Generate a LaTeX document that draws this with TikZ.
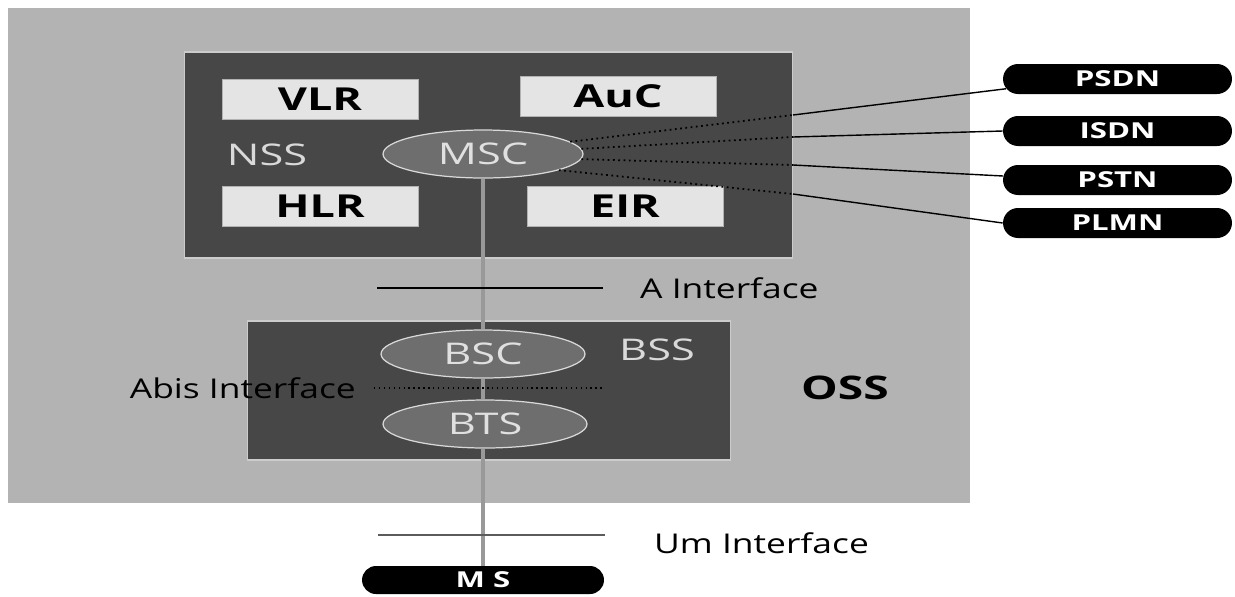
\documentclass[tikz,border=0pt]{standalone}
\usepackage{fontspec}
\setmainfont{Open Sans}[FakeStretch=1.3, BoldFeatures={FakeStretch=1.42}]
\newfontfamily\etire{Open Sans}[FakeStretch=1.45]
\usetikzlibrary{shapes.geometric,shapes.misc}

\definecolor{grisoss}{HTML}{B3B3B3}
\definecolor{grisfonce}{HTML}{474747}
\definecolor{grisclair}{HTML}{E4E4E4}
\definecolor{grismoyen}{HTML}{6E6E6E}
\definecolor{grisligne}{HTML}{999999}

\tikzset{bloc/.style = {draw = white!80!black, fill = grisfonce, line width = 0.6pt},
         boite/.style = {draw = white!70!black, fill = grisclair, minimum width = 3.92cm,
                         minimum height = 0.8cm, inner sep = 0pt,
                         font = \bfseries\fontsize{18}{20}\selectfont},
         ovale/.style = {ellipse, draw = white!85!black, fill = grismoyen, line width = 0.7pt,
                         minimum width = 4cm, minimum height = 0.96cm, inner sep = 0pt,
                         text = white!88!black, font = \etire\fontsize{17}{20}\selectfont},
         pilule/.style = {rounded rectangle, fill = black, text = white, inner sep = 0pt,
                          minimum width = 4.58cm, minimum height = 0.6cm,
                          font = \bfseries\fontsize{12.5}{14}\selectfont},
         titre/.style = {text = white!85!black, font = \etire\fontsize{17}{20}\selectfont},
         etiquette/.style = {font = \fontsize{15.5}{18}\selectfont},
         lien/.style = {black, line width = 0.8pt},
         tirets/.style = {black, dotted, line width = 1pt},
         axe/.style = {grisligne, line width = 2pt}
        }

\begin{document}
\begin{tikzpicture}[x = 0.02cm, y = -0.02cm]
  \useasboundingbox (0,0) rectangle (1235,596);
  % fond OSS
  \fill[grisoss] (8,8) rectangle (970,503);

  % NSS
  \node[bloc, minimum width = 12.18cm, minimum height = 4.12cm] (nss) at (488.5,155) {};
  \node[boite] (vlr) at (320,99) {VLR};
  \node[boite] (auc) at (618,96) {AuC};
  \node[boite] (hlr) at (320,206) {HLR};
  \node[boite] (eir) at (625,206) {EIR};
  \node[titre] (nsstxt) at (267,155) {NSS};
  \node[ovale] (msc) at (483,154) {MSC};

  % BSS
  \node[bloc, minimum width = 9.68cm, minimum height = 2.78cm] (bss) at (489,390.5) {};
  \node[ovale, minimum width = 4.08cm] (bsc) at (483,354) {BSC};
  \node[ovale, minimum width = 4.08cm] (bts) at (485,424) {BTS};
  \node[titre] (bsstxt) at (657,350) {BSS};
  \node[font = \bfseries\fontsize{18.5}{22}\selectfont] (osstxt) at (845,388) {OSS};

  % reseaux externes
  \node[pilule] (psdn) at (1117.5,79) {PSDN};
  \node[pilule] (isdn) at (1117.5,131) {ISDN};
  \node[pilule] (pstn) at (1117.5,180) {PSTN};
  \node[pilule] (plmn) at (1117.5,223) {PLMN};
  \node[pilule, minimum width = 4.84cm, minimum height = 0.56cm] (ms) at (483,580) {M S};

  % sorties du MSC : pointilles dans le NSS, trait plein dehors
  \coordinate (b1) at (793,115);
  \coordinate (b2) at (793,137);
  \coordinate (b3) at (793,165);
  \coordinate (b4) at (793,194);
  \draw[tirets] (msc.8) -- (b1);
  \draw[tirets] (msc.3) -- (b2);
  \draw[tirets] (msc.-3) -- (b3);
  \draw[tirets] (msc.-12) -- (b4);
  \draw[lien] (b1) -- (psdn.185);
  \draw[lien] (b2) -- (isdn.west);
  \draw[lien] (b3) -- (pstn.178);
  \draw[lien] (b4) -- (plmn.west);

  % axe vertical
  \draw[axe] (msc.south) -- (msc.south |- bsc.north);
  \draw[axe] (msc.south |- bsc.south) -- (msc.south |- bts.north);
  \draw[axe] (msc.south |- bts.south) -- (ms.north -| msc.south);

  % interfaces
  \coordinate (a1) at (377,288);
  \coordinate (a2) at (603,288);
  \draw[lien] (a1) -- (a2);
  \node[etiquette, anchor = west] (atxt) at (634,288) {A Interface};
  \coordinate (d1) at (374,388);
  \coordinate (d2) at (603,388);
  \draw[tirets, line width = 0.8pt] (d1) -- (d2);
  \node[etiquette, anchor = east] (abistxt) at (362,388) {Abis Interface};
  \coordinate (u1) at (378,535);
  \coordinate (u2) at (605,535);
  \draw[lien, grisligne!60!black] (u1) -- (u2);
  \node[etiquette, anchor = west] (umtxt) at (648,543) {Um Interface};
\end{tikzpicture}
\end{document}
